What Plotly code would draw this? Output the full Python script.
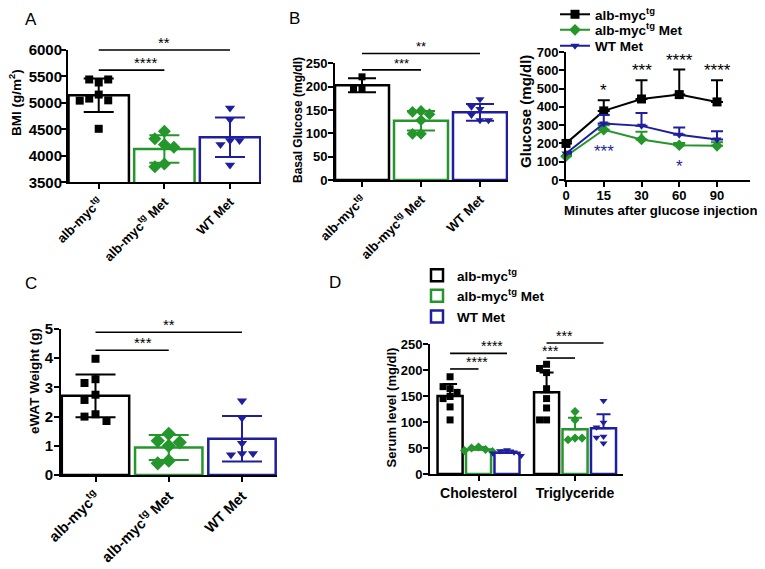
import numpy as np
import plotly.graph_objects as go

W, H = 765, 569
OFF = 8                      # page offset of the plot div (default body margin)
FW, FH = W - OFF, H - OFF
FONT = "Liberation Sans, Arial, Helvetica, sans-serif"
BLACK, GREEN, BLUE = "#000000", "#24962b", "#1f1f9e"
COLORS = [BLACK, GREEN, BLUE]
SYMBOLS = ["square", "diamond", "triangle-down"]

groups = ["alb-myc<sup>tg</sup>", "alb-myc<sup>tg</sup> Met", "WT Met"]

# ---------------- Panel A: BMI ----------------
bmi_mean = [5145, 4131, 4352]
bmi_sd = [317, 260, 374]
bmi_myc = [5386, 5443, 5443, 5158, 5082, 5049, 5043, 4511]
bmi_myc_met = [4466, 4322, 4213, 4162, 3846, 3795]
bmi_wt_met = [4903, 4688, 4289, 4213, 4289, 3827]
bmi_sig = [(0, 1, 5620, "****"), (0, 2, 6000, "**")]

# ---------------- Panel B: basal glucose ----------------
glu_mean = [203, 127, 145]
glu_sd = [15, 21, 18]
glu_myc = [221, 194, 194]
glu_myc_met = [148, 146, 141, 128, 99, 99]
glu_wt_met = [173, 157, 152, 139, 128, 128]
glu_sig = [(0, 1, 236, "***"), (0, 2, 271, "**")]

# ---------------- Panel B right: GTT ----------------
gtt_minutes = ["0", "15", "30", "60", "90"]
gtt_myc = [200, 378, 443, 467, 427]
gtt_myc_sd = [12, 58, 102, 137, 118]
gtt_myc_met = [130, 275, 222, 190, 187]
gtt_myc_met_sd = [10, 25, 42, 12, 20]
gtt_wt_met = [145, 309, 296, 247, 222]
gtt_wt_met_sd = [10, 46, 71, 40, 45]
gtt_sig_myc = ["", "*", "***", "****", "****"]
gtt_sig_wt = ["", "***", "", "*", ""]

# ---------------- Panel C: eWAT ----------------
ewat_mean = [2.71, 0.94, 1.24]
ewat_sd = [0.73, 0.43, 0.78]
ewat_myc = [3.98, 3.28, 3.15, 2.75, 2.57, 2.08, 2.0, 1.85]
ewat_myc_met = [1.41, 1.17, 1.12, 1.0, 0.49, 0.40]
ewat_wt_met = [2.54, 1.95, 1.09, 0.74, 0.69, 0.74]
ewat_sig = [(0, 1, 4.27, "***"), (0, 2, 4.89, "**")]

# ---------------- Panel D: serum lipids ----------------
lipids = ["Cholesterol", "Triglyceride"]
serum_mean = {0: [150, 157], 1: [47, 86], 2: [41, 88]}
serum_sd = {0: [23, 38], 1: [5, 22], 2: [4, 27]}
serum_pts = {
    0: [[187, 164, 168, 157, 149, 145, 129, 104], [211, 203, 195, 164, 145, 127, 104, 104]],
    1: [[52, 50, 47, 45, 43], [120, 104, 69, 66, 69]],
    2: [[46, 44, 42, 40, 35], [141, 99, 90, 72, 70, 59]],
}
serum_sig = [(0, 0, 1, 202, "****"), (0, 0, 2, 232, "****"),
             (1, 0, 1, 223, "***"), (1, 0, 2, 252, "***")]

# ---------------- geometry (reference pixels of plot areas) ----------------
GEOM = {
    "A": dict(px=(68, 261, 50, 182.3), xr=(-0.468, 2.472), yr=(3500, 6000), ax=""),
    "B": dict(px=(335, 508, 63.3, 180), xr=(-0.458, 2.475), yr=(0, 250), ax="2"),
    "G": dict(px=(566, 750, 52, 180), xr=(0, 4.874), yr=(0, 700), ax="3"),
    "C": dict(px=(61, 277, 329, 475), xr=(-0.471, 2.478), yr=(0, 5), ax="4"),
    "D": dict(px=(430, 623, 344, 474), xr=(-0.503, 1.497), yr=(0, 250), ax="5"),
}


def fx(x):
    return (x - OFF) / FW


def fy(y):
    return 1 - (y - OFF) / FH


def scales(g):
    l, r, t, b = g["px"]
    sx = (r - l) / (g["xr"][1] - g["xr"][0])
    sy = (b - t) / (g["yr"][1] - g["yr"][0])
    return sx, sy


def swarm(vals, g, d):
    sx, sy = scales(g)
    placed, offs = [], []
    cands = [0]
    for k in range(1, 12):
        cands += [-k * d, k * d]
    for v in vals:
        y = v * sy
        for c in cands:
            if all(np.hypot(c - px, y - py) >= d * 0.92 for px, py in placed):
                break
        placed.append((c, y))
        offs.append(c / sx)
    return offs


fig = go.Figure()


def xa(g):
    return "x" + g["ax"]


def ya(g):
    return "y" + g["ax"]


def bar_panel(g, means, sds, pts, width, capw, msize, d):
    for i in range(3):
        fig.add_trace(go.Bar(
            x=[i], y=[means[i]], width=width,
            marker=dict(color="white", line=dict(color=COLORS[i], width=2.5)),
            error_y=dict(type="data", array=[sds[i]], color=COLORS[i], thickness=2, width=capw),
            xaxis=xa(g), yaxis=ya(g), showlegend=False, hoverinfo="skip"))
    for i in range(3):
        offs = swarm(pts[i], g, d)
        fig.add_trace(go.Scatter(
            x=[i + o for o in offs], y=pts[i], mode="markers",
            marker=dict(symbol=SYMBOLS[i], color=COLORS[i], size=msize[i]),
            xaxis=xa(g), yaxis=ya(g), showlegend=False, cliponaxis=False, hoverinfo="skip"))


bar_panel(GEOM["A"], bmi_mean, bmi_sd, [bmi_myc, bmi_myc_met, bmi_wt_met], 0.92, 15, [8, 10, 9], 9.5)
bar_panel(GEOM["B"], glu_mean, glu_sd, [glu_myc, glu_myc_met, glu_wt_met], 0.915, 14, [7, 9, 8], 8.5)
bar_panel(GEOM["C"], ewat_mean, ewat_sd, [ewat_myc, ewat_myc_met, ewat_wt_met], 0.92, 20, [8, 11, 9], 11)

# ---------------- GTT line chart ----------------
gG = GEOM["G"]
for vals, sd, i, lg in [(gtt_myc, gtt_myc_sd, 0, "legend"),
                        (gtt_myc_met, gtt_myc_met_sd, 1, "legend3"),
                        (gtt_wt_met, gtt_wt_met_sd, 2, "legend4")]:
    fig.add_trace(go.Scatter(
        x=gtt_minutes, y=vals, mode="lines+markers", name=groups[i],
        line=dict(color=COLORS[i], width=2),
        marker=dict(symbol=SYMBOLS[i], color=COLORS[i], size=[9, 9, 8][i]),
        error_y=dict(type="data", symmetric=False, array=sd, arrayminus=[0] * len(sd),
                     color=COLORS[i], thickness=2, width=6),
        xaxis=xa(gG), yaxis=ya(gG), legend=lg, cliponaxis=False, hoverinfo="skip"))

# ---------------- Panel D grouped bars ----------------
gD = GEOM["D"]
group_w = 0.885
slot = group_w / 3
bar_w = slot * 0.88
for i in range(3):
    center = (i - 1) * slot
    fig.add_trace(go.Bar(
        x=[0, 1], y=serum_mean[i], width=bar_w, offset=center - bar_w / 2, name=groups[i],
        marker=dict(color="white", line=dict(color=COLORS[i], width=2.5)),
        error_y=dict(type="data", symmetric=False, array=serum_sd[i], arrayminus=[0, 0],
                     color=COLORS[i], thickness=2, width=7),
        xaxis=xa(gD), yaxis=ya(gD), legend="legend2", hoverinfo="skip"))
for i in range(3):
    center = (i - 1) * slot
    xs, ys = [], []
    for j in range(2):
        offs = swarm(serum_pts[i][j], gD, 7)
        xs += [j + center + o for o in offs]
        ys += serum_pts[i][j]
    fig.add_trace(go.Scatter(
        x=xs, y=ys, mode="markers",
        marker=dict(symbol=SYMBOLS[i], color=COLORS[i], size=7),
        xaxis=xa(gD), yaxis=ya(gD), showlegend=False, cliponaxis=False, hoverinfo="skip"))

# ---------------- axes ----------------
def tfont(size):
    return dict(family=FONT, size=size, color="black", weight="bold")


base = dict(showline=True, linecolor="black", linewidth=2, ticks="outside", ticklen=5,
            tickwidth=2, tickcolor="black", showgrid=False, zeroline=False, fixedrange=True,
            automargin=False)

layout_axes = {}
for key, g in GEOM.items():
    l, r, t, b = g["px"]
    sfx = g["ax"]
    xd = dict(base, domain=[fx(l), fx(r)], range=list(g["xr"]), anchor="y" + sfx)
    yd = dict(base, domain=[fy(b), fy(t)], range=list(g["yr"]), anchor="x" + sfx,
              ticklabelstandoff=-2)
    layout_axes["xaxis" + sfx] = xd
    layout_axes["yaxis" + sfx] = yd

for key, fs in [("A", 13), ("B", 13), ("C", 14.5)]:
    sfx = GEOM[key]["ax"]
    layout_axes["xaxis" + sfx].update(tickvals=[0, 1, 2], ticktext=groups, tickangle=-45,
                                      tickfont=tfont(fs))
layout_axes["yaxis"].update(tickvals=list(range(3500, 6001, 500)), tickfont=tfont(15),
                            ticklabelstandoff=-4)
layout_axes["yaxis2"].update(tickvals=list(range(0, 251, 50)), tickfont=tfont(13))
layout_axes["xaxis3"].update(type="category", tickfont=tfont(13), ticklabelstandoff=-3)
layout_axes["yaxis3"].update(tickvals=list(range(0, 701, 100)), tickfont=tfont(13))
layout_axes["yaxis4"].update(tickvals=list(range(0, 6)), tickfont=tfont(15))
layout_axes["xaxis5"].update(tickvals=[0, 1], ticktext=lipids, tickfont=tfont(14))
layout_axes["yaxis5"].update(tickvals=list(range(0, 251, 50)), tickfont=tfont(13))

# ---------------- shapes + annotations ----------------
shapes, annos = [], []


def dom(g, x, y):
    return ((x - g["xr"][0]) / (g["xr"][1] - g["xr"][0]),
            (y - g["yr"][0]) / (g["yr"][1] - g["yr"][0]))


def sig(g, x0, x1, y, txt, fs=14):
    a0, yy = dom(g, x0, y)
    a1, _ = dom(g, x1, y)
    shapes.append(dict(type="line", xref=xa(g) + " domain", yref=ya(g) + " domain",
                       x0=a0, x1=a1, y0=yy, y1=yy, line=dict(color="black", width=1.6)))
    annos.append(dict(xref=xa(g) + " domain", yref=ya(g) + " domain", x=(a0 + a1) / 2, y=yy,
                      text=txt, showarrow=False, yanchor="bottom", yshift=-3,
                      font=dict(family=FONT, size=fs, color="black")))


for key, lst in [("A", bmi_sig), ("B", glu_sig), ("C", ewat_sig)]:
    for a, b, y, t in lst:
        sig(GEOM[key], a, b, y, t, 15 if key != "B" else 13)
for lip, a, b, y, t in serum_sig:
    sig(gD, lip + (a - 1) * slot, lip + (b - 1) * slot, y, t, 14)

for i, t in enumerate(gtt_sig_myc):
    if t:
        annos.append(dict(xref=xa(gG), yref=ya(gG), x=i, y=gtt_myc[i] + gtt_myc_sd[i],
                          text=t, showarrow=False, yanchor="bottom", yshift=-2,
                          font=dict(family=FONT, size=17, color="black")))
for i, t in enumerate(gtt_sig_wt):
    if t:
        annos.append(dict(xref=xa(gG), yref=ya(gG), x=i, y=gtt_myc_met[i],
                          text=t, showarrow=False, yanchor="top", yshift=-10,
                          font=dict(family=FONT, size=17, color=BLUE)))


def ptext(x, y, txt, size, angle=0, bold=True):
    annos.append(dict(xref="paper", yref="paper", x=fx(x), y=fy(y), text=txt,
                      showarrow=False, textangle=angle, xanchor="center", yanchor="middle",
                      font=dict(family=FONT, size=size, color="black",
                                weight="bold" if bold else "normal")))


# panel letters
ptext(31, 19.5, "A", 17, bold=False)
ptext(294, 18.5, "B", 17, bold=False)
ptext(31, 283, "C", 17, bold=False)
ptext(335, 282.5, "D", 17, bold=False)
# axis titles
ptext(15, 103, "BMI (g/m<sup>2</sup>)", 13.5, angle=-90)
ptext(298, 120, "Basal Glucose (mg/dl)", 12, angle=-90)
ptext(525, 112, "Glucose (mg/dl)", 15, angle=-90)
ptext(660, 211, "Minutes after glucose injection", 13.2)
ptext(34, 381, "eWAT Weight (g)", 13.5, angle=-90)
ptext(391, 407.5, "Serum level (mg/dl)", 13, angle=-90)


def leg(x, y, size=13.5):
    return dict(x=fx(x), y=fy(y), xanchor="left", yanchor="middle", font=tfont(size),
                bgcolor="rgba(0,0,0,0)", tracegroupgap=0)


fig.update_layout(
    width=FW, height=FH, margin=dict(l=0, r=0, t=0, b=0, autoexpand=False),
    paper_bgcolor="white", plot_bgcolor="white",
    barmode="overlay", font=dict(family=FONT, color="black"),
    shapes=shapes, annotations=annos, showlegend=True,
    legend=leg(555, 14.5), legend3=leg(555, 30), legend4=leg(555, 46),
    legend2=dict(x=fx(417), y=fy(260), xanchor="left", yanchor="top", font=tfont(13.5),
                 bgcolor="rgba(0,0,0,0)", tracegroupgap=0),
    **layout_axes)

fig.write_html("out.html")
